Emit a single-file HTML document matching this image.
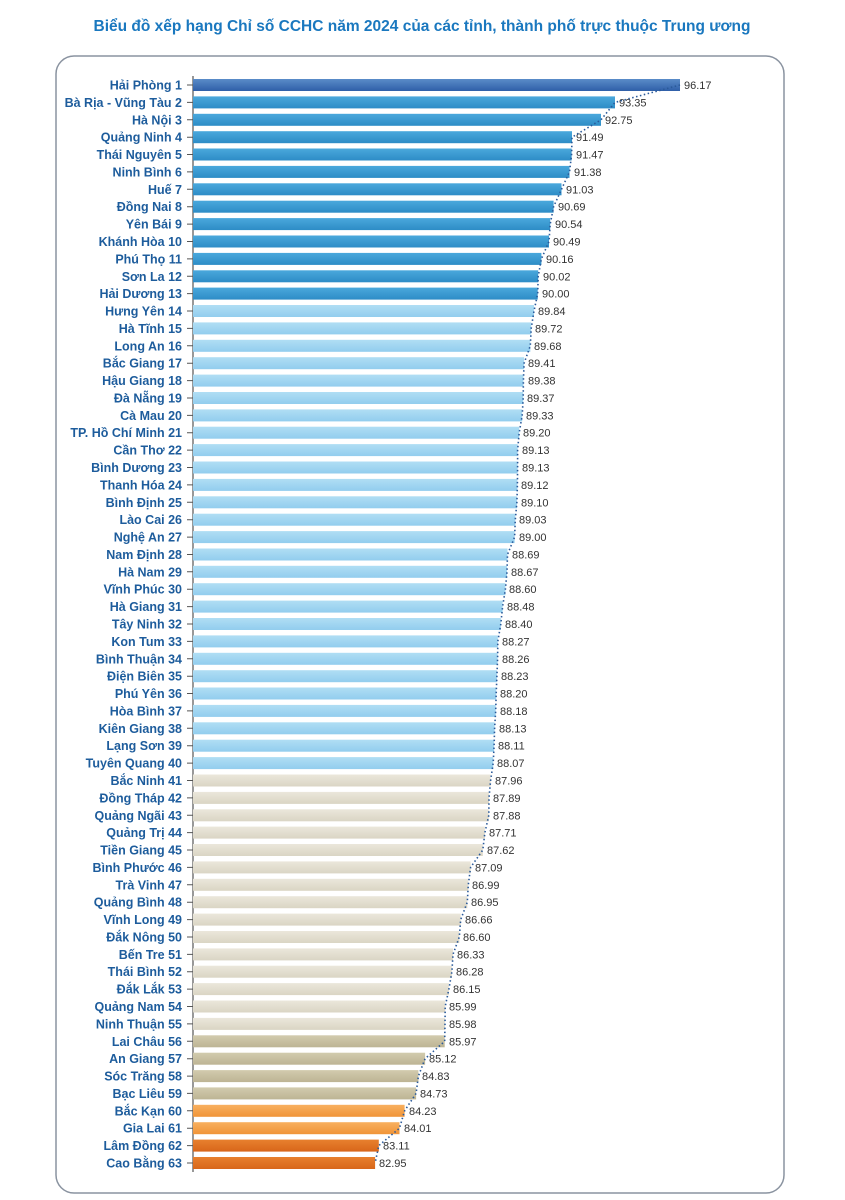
<!DOCTYPE html>
<html><head><meta charset="utf-8"><style>
body{margin:0;background:#fff;width:845px;height:1200px;overflow:hidden}
svg{display:block}
.l{font-family:"Liberation Sans",sans-serif;font-weight:bold;font-size:12.5px;fill:#1d5c9c;text-anchor:end}
.v{font-family:"Liberation Sans Narrow","Liberation Sans",sans-serif;font-size:11px;fill:#333}
</style></head><body>
<svg width="845" height="1200" xmlns="http://www.w3.org/2000/svg">
<defs>
<linearGradient id="g0" x1="0" y1="0" x2="0" y2="1"><stop offset="0" stop-color="#5a8cc8"/><stop offset="1" stop-color="#2f5fa8"/></linearGradient>
<linearGradient id="g1" x1="0" y1="0" x2="0" y2="1"><stop offset="0" stop-color="#4aa8dc"/><stop offset="1" stop-color="#2d8cc6"/></linearGradient>
<linearGradient id="g2" x1="0" y1="0" x2="0" y2="1"><stop offset="0" stop-color="#b0def4"/><stop offset="1" stop-color="#92cdee"/></linearGradient>
<linearGradient id="g3" x1="0" y1="0" x2="0" y2="1"><stop offset="0" stop-color="#ebe7db"/><stop offset="1" stop-color="#dad5c4"/></linearGradient>
<linearGradient id="g4" x1="0" y1="0" x2="0" y2="1"><stop offset="0" stop-color="#d2cbae"/><stop offset="1" stop-color="#bdb494"/></linearGradient>
<linearGradient id="g5" x1="0" y1="0" x2="0" y2="1"><stop offset="0" stop-color="#f8b060"/><stop offset="1" stop-color="#f09438"/></linearGradient>
<linearGradient id="g6" x1="0" y1="0" x2="0" y2="1"><stop offset="0" stop-color="#e8802e"/><stop offset="1" stop-color="#d8661a"/></linearGradient>
</defs>
<text x="422" y="31" text-anchor="middle" font-family="Liberation Sans, sans-serif" font-weight="bold" font-size="15.5" fill="#1a78bf">Biểu đồ xếp hạng Chỉ số CCHC năm 2024 của các tỉnh, thành phố trực thuộc Trung ương</text>
<rect x="56" y="56" width="728" height="1137" rx="18" fill="#fff" stroke="#8a93a0" stroke-width="1.5"/>
<line x1="193" y1="76" x2="193" y2="1172" stroke="#555" stroke-width="1.2"/>
<g>
<g transform="translate(0,85)"><text class="l" x="182" y="4.5">Hải Phòng  1</text><rect x="193" y="-6" width="487" height="12" fill="url(#g0)"/><text class="v" x="684" y="4">96.17</text></g>
<g transform="translate(0,102.4)"><text class="l" x="182" y="4.5">Bà Rịa - Vũng Tàu  2</text><rect x="193" y="-6" width="422" height="12" fill="url(#g1)"/><text class="v" x="619" y="4">93.35</text></g>
<g transform="translate(0,119.8)"><text class="l" x="182" y="4.5">Hà Nội  3</text><rect x="193" y="-6" width="408" height="12" fill="url(#g1)"/><text class="v" x="605" y="4">92.75</text></g>
<g transform="translate(0,137.2)"><text class="l" x="182" y="4.5">Quảng Ninh  4</text><rect x="193" y="-6" width="379" height="12" fill="url(#g1)"/><text class="v" x="576" y="4">91.49</text></g>
<g transform="translate(0,154.5)"><text class="l" x="182" y="4.5">Thái Nguyên  5</text><rect x="193" y="-6" width="378.6" height="12" fill="url(#g1)"/><text class="v" x="576" y="4">91.47</text></g>
<g transform="translate(0,171.9)"><text class="l" x="182" y="4.5">Ninh Bình  6</text><rect x="193" y="-6" width="376.5" height="12" fill="url(#g1)"/><text class="v" x="574" y="4">91.38</text></g>
<g transform="translate(0,189.3)"><text class="l" x="182" y="4.5">Huế  7</text><rect x="193" y="-6" width="368.5" height="12" fill="url(#g1)"/><text class="v" x="566" y="4">91.03</text></g>
<g transform="translate(0,206.7)"><text class="l" x="182" y="4.5">Đồng Nai  8</text><rect x="193" y="-6" width="360.6" height="12" fill="url(#g1)"/><text class="v" x="558" y="4">90.69</text></g>
<g transform="translate(0,224.1)"><text class="l" x="182" y="4.5">Yên Bái  9</text><rect x="193" y="-6" width="357.2" height="12" fill="url(#g1)"/><text class="v" x="555" y="4">90.54</text></g>
<g transform="translate(0,241.5)"><text class="l" x="182" y="4.5">Khánh Hòa  10</text><rect x="193" y="-6" width="356" height="12" fill="url(#g1)"/><text class="v" x="553" y="4">90.49</text></g>
<g transform="translate(0,258.9)"><text class="l" x="182" y="4.5">Phú Thọ 11</text><rect x="193" y="-6" width="348.4" height="12" fill="url(#g1)"/><text class="v" x="546" y="4">90.16</text></g>
<g transform="translate(0,276.3)"><text class="l" x="182" y="4.5">Sơn La 12</text><rect x="193" y="-6" width="345.2" height="12" fill="url(#g1)"/><text class="v" x="543" y="4">90.02</text></g>
<g transform="translate(0,293.6)"><text class="l" x="182" y="4.5">Hải Dương 13</text><rect x="193" y="-6" width="344.7" height="12" fill="url(#g1)"/><text class="v" x="542" y="4">90.00</text></g>
<g transform="translate(0,311.0)"><text class="l" x="182" y="4.5">Hưng Yên 14</text><rect x="193" y="-6" width="341" height="12" fill="url(#g2)"/><text class="v" x="538" y="4">89.84</text></g>
<g transform="translate(0,328.4)"><text class="l" x="182" y="4.5">Hà Tĩnh 15</text><rect x="193" y="-6" width="338.2" height="12" fill="url(#g2)"/><text class="v" x="535" y="4">89.72</text></g>
<g transform="translate(0,345.8)"><text class="l" x="182" y="4.5">Long An 16</text><rect x="193" y="-6" width="337.3" height="12" fill="url(#g2)"/><text class="v" x="534" y="4">89.68</text></g>
<g transform="translate(0,363.2)"><text class="l" x="182" y="4.5">Bắc Giang 17</text><rect x="193" y="-6" width="331.1" height="12" fill="url(#g2)"/><text class="v" x="528" y="4">89.41</text></g>
<g transform="translate(0,380.6)"><text class="l" x="182" y="4.5">Hậu Giang 18</text><rect x="193" y="-6" width="330.4" height="12" fill="url(#g2)"/><text class="v" x="528" y="4">89.38</text></g>
<g transform="translate(0,398.0)"><text class="l" x="182" y="4.5">Đà Nẵng 19</text><rect x="193" y="-6" width="330.2" height="12" fill="url(#g2)"/><text class="v" x="527" y="4">89.37</text></g>
<g transform="translate(0,415.4)"><text class="l" x="182" y="4.5">Cà Mau 20</text><rect x="193" y="-6" width="329.2" height="12" fill="url(#g2)"/><text class="v" x="526" y="4">89.33</text></g>
<g transform="translate(0,432.7)"><text class="l" x="182" y="4.5">TP. Hồ Chí Minh 21</text><rect x="193" y="-6" width="326.2" height="12" fill="url(#g2)"/><text class="v" x="523" y="4">89.20</text></g>
<g transform="translate(0,450.1)"><text class="l" x="182" y="4.5">Cần Thơ 22</text><rect x="193" y="-6" width="324.6" height="12" fill="url(#g2)"/><text class="v" x="522" y="4">89.13</text></g>
<g transform="translate(0,467.5)"><text class="l" x="182" y="4.5">Bình Dương 23</text><rect x="193" y="-6" width="324.6" height="12" fill="url(#g2)"/><text class="v" x="522" y="4">89.13</text></g>
<g transform="translate(0,484.9)"><text class="l" x="182" y="4.5">Thanh Hóa 24</text><rect x="193" y="-6" width="324.4" height="12" fill="url(#g2)"/><text class="v" x="521" y="4">89.12</text></g>
<g transform="translate(0,502.3)"><text class="l" x="182" y="4.5">Bình Định 25</text><rect x="193" y="-6" width="323.9" height="12" fill="url(#g2)"/><text class="v" x="521" y="4">89.10</text></g>
<g transform="translate(0,519.7)"><text class="l" x="182" y="4.5">Lào Cai 26</text><rect x="193" y="-6" width="322.3" height="12" fill="url(#g2)"/><text class="v" x="519" y="4">89.03</text></g>
<g transform="translate(0,537.1)"><text class="l" x="182" y="4.5">Nghệ An 27</text><rect x="193" y="-6" width="321.6" height="12" fill="url(#g2)"/><text class="v" x="519" y="4">89.00</text></g>
<g transform="translate(0,554.5)"><text class="l" x="182" y="4.5">Nam Định 28</text><rect x="193" y="-6" width="314.5" height="12" fill="url(#g2)"/><text class="v" x="512" y="4">88.69</text></g>
<g transform="translate(0,571.8)"><text class="l" x="182" y="4.5">Hà Nam 29</text><rect x="193" y="-6" width="314" height="12" fill="url(#g2)"/><text class="v" x="511" y="4">88.67</text></g>
<g transform="translate(0,589.2)"><text class="l" x="182" y="4.5">Vĩnh Phúc 30</text><rect x="193" y="-6" width="312.4" height="12" fill="url(#g2)"/><text class="v" x="509" y="4">88.60</text></g>
<g transform="translate(0,606.6)"><text class="l" x="182" y="4.5">Hà Giang 31</text><rect x="193" y="-6" width="309.6" height="12" fill="url(#g2)"/><text class="v" x="507" y="4">88.48</text></g>
<g transform="translate(0,624.0)"><text class="l" x="182" y="4.5">Tây Ninh 32</text><rect x="193" y="-6" width="307.8" height="12" fill="url(#g2)"/><text class="v" x="505" y="4">88.40</text></g>
<g transform="translate(0,641.4)"><text class="l" x="182" y="4.5">Kon Tum 33</text><rect x="193" y="-6" width="304.8" height="12" fill="url(#g2)"/><text class="v" x="502" y="4">88.27</text></g>
<g transform="translate(0,658.8)"><text class="l" x="182" y="4.5">Bình Thuận 34</text><rect x="193" y="-6" width="304.6" height="12" fill="url(#g2)"/><text class="v" x="502" y="4">88.26</text></g>
<g transform="translate(0,676.2)"><text class="l" x="182" y="4.5">Điện Biên 35</text><rect x="193" y="-6" width="303.9" height="12" fill="url(#g2)"/><text class="v" x="501" y="4">88.23</text></g>
<g transform="translate(0,693.5)"><text class="l" x="182" y="4.5">Phú Yên 36</text><rect x="193" y="-6" width="303.2" height="12" fill="url(#g2)"/><text class="v" x="500" y="4">88.20</text></g>
<g transform="translate(0,710.9)"><text class="l" x="182" y="4.5">Hòa Bình 37</text><rect x="193" y="-6" width="302.7" height="12" fill="url(#g2)"/><text class="v" x="500" y="4">88.18</text></g>
<g transform="translate(0,728.3)"><text class="l" x="182" y="4.5">Kiên Giang 38</text><rect x="193" y="-6" width="301.6" height="12" fill="url(#g2)"/><text class="v" x="499" y="4">88.13</text></g>
<g transform="translate(0,745.7)"><text class="l" x="182" y="4.5">Lạng Sơn 39</text><rect x="193" y="-6" width="301.1" height="12" fill="url(#g2)"/><text class="v" x="498" y="4">88.11</text></g>
<g transform="translate(0,763.1)"><text class="l" x="182" y="4.5">Tuyên Quang 40</text><rect x="193" y="-6" width="300.2" height="12" fill="url(#g2)"/><text class="v" x="497" y="4">88.07</text></g>
<g transform="translate(0,780.5)"><text class="l" x="182" y="4.5">Bắc Ninh 41</text><rect x="193" y="-6" width="297.6" height="12" fill="url(#g3)"/><text class="v" x="495" y="4">87.96</text></g>
<g transform="translate(0,797.9)"><text class="l" x="182" y="4.5">Đồng Tháp 42</text><rect x="193" y="-6" width="296" height="12" fill="url(#g3)"/><text class="v" x="493" y="4">87.89</text></g>
<g transform="translate(0,815.3)"><text class="l" x="182" y="4.5">Quảng Ngãi 43</text><rect x="193" y="-6" width="295.8" height="12" fill="url(#g3)"/><text class="v" x="493" y="4">87.88</text></g>
<g transform="translate(0,832.6)"><text class="l" x="182" y="4.5">Quảng Trị 44</text><rect x="193" y="-6" width="291.9" height="12" fill="url(#g3)"/><text class="v" x="489" y="4">87.71</text></g>
<g transform="translate(0,850.0)"><text class="l" x="182" y="4.5">Tiền Giang 45</text><rect x="193" y="-6" width="289.8" height="12" fill="url(#g3)"/><text class="v" x="487" y="4">87.62</text></g>
<g transform="translate(0,867.4)"><text class="l" x="182" y="4.5">Bình Phước 46</text><rect x="193" y="-6" width="277.6" height="12" fill="url(#g3)"/><text class="v" x="475" y="4">87.09</text></g>
<g transform="translate(0,884.8)"><text class="l" x="182" y="4.5">Trà Vinh 47</text><rect x="193" y="-6" width="275.3" height="12" fill="url(#g3)"/><text class="v" x="472" y="4">86.99</text></g>
<g transform="translate(0,902.2)"><text class="l" x="182" y="4.5">Quảng Bình 48</text><rect x="193" y="-6" width="274.3" height="12" fill="url(#g3)"/><text class="v" x="471" y="4">86.95</text></g>
<g transform="translate(0,919.6)"><text class="l" x="182" y="4.5">Vĩnh Long 49</text><rect x="193" y="-6" width="267.7" height="12" fill="url(#g3)"/><text class="v" x="465" y="4">86.66</text></g>
<g transform="translate(0,937.0)"><text class="l" x="182" y="4.5">Đắk Nông 50</text><rect x="193" y="-6" width="266.3" height="12" fill="url(#g3)"/><text class="v" x="463" y="4">86.60</text></g>
<g transform="translate(0,954.4)"><text class="l" x="182" y="4.5">Bến Tre 51</text><rect x="193" y="-6" width="260" height="12" fill="url(#g3)"/><text class="v" x="457" y="4">86.33</text></g>
<g transform="translate(0,971.7)"><text class="l" x="182" y="4.5">Thái Bình 52</text><rect x="193" y="-6" width="258.9" height="12" fill="url(#g3)"/><text class="v" x="456" y="4">86.28</text></g>
<g transform="translate(0,989.1)"><text class="l" x="182" y="4.5">Đắk Lắk 53</text><rect x="193" y="-6" width="255.9" height="12" fill="url(#g3)"/><text class="v" x="453" y="4">86.15</text></g>
<g transform="translate(0,1006.5)"><text class="l" x="182" y="4.5">Quảng Nam 54</text><rect x="193" y="-6" width="252.2" height="12" fill="url(#g3)"/><text class="v" x="449" y="4">85.99</text></g>
<g transform="translate(0,1023.9)"><text class="l" x="182" y="4.5">Ninh Thuận 55</text><rect x="193" y="-6" width="252" height="12" fill="url(#g3)"/><text class="v" x="449" y="4">85.98</text></g>
<g transform="translate(0,1041.3)"><text class="l" x="182" y="4.5">Lai Châu 56</text><rect x="193" y="-6" width="251.7" height="12" fill="url(#g4)"/><text class="v" x="449" y="4">85.97</text></g>
<g transform="translate(0,1058.7)"><text class="l" x="182" y="4.5">An Giang 57</text><rect x="193" y="-6" width="232.1" height="12" fill="url(#g4)"/><text class="v" x="429" y="4">85.12</text></g>
<g transform="translate(0,1076.1)"><text class="l" x="182" y="4.5">Sóc Trăng 58</text><rect x="193" y="-6" width="225.4" height="12" fill="url(#g4)"/><text class="v" x="422" y="4">84.83</text></g>
<g transform="translate(0,1093.4)"><text class="l" x="182" y="4.5">Bạc Liêu 59</text><rect x="193" y="-6" width="223.1" height="12" fill="url(#g4)"/><text class="v" x="420" y="4">84.73</text></g>
<g transform="translate(0,1110.8)"><text class="l" x="182" y="4.5">Bắc Kạn 60</text><rect x="193" y="-6" width="211.6" height="12" fill="url(#g5)"/><text class="v" x="409" y="4">84.23</text></g>
<g transform="translate(0,1128.2)"><text class="l" x="182" y="4.5">Gia Lai 61</text><rect x="193" y="-6" width="206.5" height="12" fill="url(#g5)"/><text class="v" x="404" y="4">84.01</text></g>
<g transform="translate(0,1145.6)"><text class="l" x="182" y="4.5">Lâm Đồng 62</text><rect x="193" y="-6" width="185.8" height="12" fill="url(#g6)"/><text class="v" x="383" y="4">83.11</text></g>
<g transform="translate(0,1163.0)"><text class="l" x="182" y="4.5">Cao Bằng 63</text><rect x="193" y="-6" width="182.1" height="12" fill="url(#g6)"/><text class="v" x="379" y="4">82.95</text></g>
</g>
<polyline fill="none" stroke="#2a5a9a" stroke-width="1.6" stroke-dasharray="1.5 2.5" points="680,85 615,102.4 601,119.8 572,137.2 571.6,154.5 569.5,171.9 561.5,189.3 553.6,206.7 550.2,224.1 549,241.5 541.4,258.9 538.2,276.3 537.7,293.6 534,311 531.2,328.4 530.3,345.8 524.1,363.2 523.4,380.6 523.2,398 522.2,415.4 519.2,432.7 517.6,450.1 517.6,467.5 517.4,484.9 516.9,502.3 515.3,519.7 514.6,537.1 507.5,554.5 507,571.8 505.4,589.2 502.6,606.6 500.8,624 497.8,641.4 497.6,658.8 496.9,676.2 496.2,693.5 495.7,710.9 494.6,728.3 494.1,745.7 493.2,763.1 490.6,780.5 489,797.9 488.8,815.3 484.9,832.6 482.8,850 470.6,867.4 468.3,884.8 467.3,902.2 460.7,919.6 459.3,937 453,954.4 451.9,971.7 448.9,989.1 445.2,1006.5 445,1023.9 444.7,1041.3 425.1,1058.7 418.4,1076.1 416.1,1093.4 404.6,1110.8 399.5,1128.2 378.8,1145.6 375.1,1163"/>
<g stroke="#555" stroke-width="1">
<path d="M187 85h6M187 102.4h6M187 119.8h6M187 137.2h6M187 154.5h6M187 171.9h6M187 189.3h6M187 206.7h6M187 224.1h6M187 241.5h6M187 258.9h6M187 276.3h6M187 293.6h6M187 311h6M187 328.4h6M187 345.8h6M187 363.2h6M187 380.6h6M187 398h6M187 415.4h6M187 432.7h6M187 450.1h6M187 467.5h6M187 484.9h6M187 502.3h6M187 519.7h6M187 537.1h6M187 554.5h6M187 571.8h6M187 589.2h6M187 606.6h6M187 624h6M187 641.4h6M187 658.8h6M187 676.2h6M187 693.5h6M187 710.9h6M187 728.3h6M187 745.7h6M187 763.1h6M187 780.5h6M187 797.9h6M187 815.3h6M187 832.6h6M187 850h6M187 867.4h6M187 884.8h6M187 902.2h6M187 919.6h6M187 937h6M187 954.4h6M187 971.7h6M187 989.1h6M187 1006.5h6M187 1023.9h6M187 1041.3h6M187 1058.7h6M187 1076.1h6M187 1093.4h6M187 1110.8h6M187 1128.2h6M187 1145.6h6M187 1163h6"/>
</g>
</svg>
</body></html>
